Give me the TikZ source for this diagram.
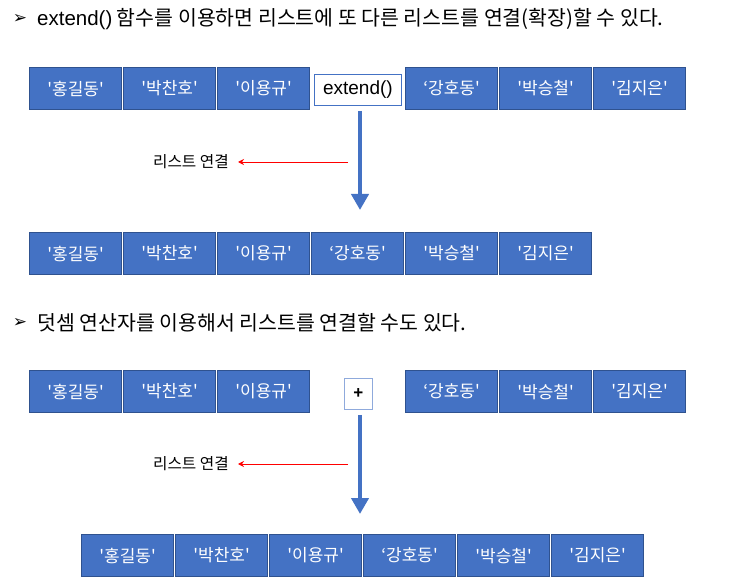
\documentclass[tikz,border=0pt]{standalone}
\usepackage{fontspec}
\newfontfamily\kr{Noto Sans CJK KR}
\newfontfamily\ar{Liberation Sans}
\newfontfamily\dv{DejaVu Sans}
\usetikzlibrary{arrows.meta}
\definecolor{bfill}{HTML}{4472C4}
\definecolor{bedge}{HTML}{2F528F}
\definecolor{pedge}{HTML}{8FAADC}
\tikzset{
  item/.style={draw=bedge, line width=1.2pt, fill=bfill, text=white,
    minimum width=92pt, minimum height=42pt, inner sep=0pt, anchor=north west,
    font=\kr\fontsize{17}{20}\selectfont},
  opbox/.style={fill=white, inner sep=0pt, anchor=north west},
  bigarrow/.style={draw=bfill, line width=4pt, shorten <=5pt, -{Triangle[length=16pt,width=17pt]}},
  redarrow/.style={draw=red, line width=0.9pt, shorten >=9pt, -{Stealth[length=6pt,width=6pt]}},
  title/.style={anchor=west, inner sep=0pt, font=\kr\fontsize{20.5}{24}\selectfont},
  bullet/.style={inner sep=0pt, font=\dv\bfseries\fontsize{17}{20}\selectfont},
  lbl/.style={anchor=east, inner sep=0pt, font=\kr\fontsize{15.7}{19}\selectfont}
}
\begin{document}
\begin{tikzpicture}[x=1pt,y=-1pt]
\useasboundingbox[fill=white] (0,0) rectangle (740,580);
% title 1
\node[bullet] (b1) at (20,19) {➢};
\node[title] (t1) at (37,19) {{\ar extend()} 함수를 이용하면 리스트에 또 다른 리스트를 연결(확장)할 수 있다.};
% row 1
\node[item] (r1a) at (29,67) {'홍길동'};
\node[item] (r1b) at (123,67) {'박찬호'};
\node[item] (r1c) at (217,67) {'이용규'};
\node[opbox, draw=bfill, line width=0.8pt, minimum width=87pt, minimum height=31pt,
  font=\ar\fontsize{19}{22}\selectfont] (ext) at (314,74) {extend()};
\node[item] (r1d) at (405,67) {‘강호동'};
\node[item] (r1e) at (499,67) {'박승철'};
\node[item] (r1f) at (593,67) {'김지은'};
% arrow 1
\coordinate (tip1) at (360,210);
\draw[bigarrow] (ext.south -| tip1) -- (tip1);
\node[lbl] (l1) at (229,162) {리스트 연결};
\coordinate (rs1) at (348,162);
\draw[redarrow] (rs1) -- (l1.east);
% row 2
\node[item] (r2a) at (29,232) {'홍길동'};
\node[item] (r2b) at (123,232) {'박찬호'};
\node[item] (r2c) at (217,232) {'이용규'};
\node[item] (r2d) at (311,232) {‘강호동'};
\node[item] (r2e) at (405,232) {'박승철'};
\node[item] (r2f) at (499,232) {'김지은'};
% title 2
\node[bullet] (b2) at (20,323) {➢};
\node[title] (t2) at (37,323) {덧셈 연산자를 이용해서 리스트를 연결할 수도 있다.};
% row 3
\node[item] (r3a) at (29,370) {'홍길동'};
\node[item] (r3b) at (123,370) {'박찬호'};
\node[item] (r3c) at (217,370) {'이용규'};
\node[opbox, draw=pedge, line width=0.9pt, minimum width=28pt, minimum height=31pt,
  font=\ar\bfseries\fontsize{17}{20}\selectfont] (plus) at (344,378) {+};
\node[item] (r3d) at (405,370) {‘강호동'};
\node[item] (r3e) at (499,370) {'박승철'};
\node[item] (r3f) at (593,370) {'김지은'};
% arrow 2
\coordinate (tip2) at (360,514);
\draw[bigarrow] (plus.south -| tip2) -- (tip2);
\node[lbl] (l2) at (229,464) {리스트 연결};
\coordinate (rs2) at (348,464);
\draw[redarrow] (rs2) -- (l2.east);
% row 4
\node[item] (r4a) at (81,534) {'홍길동'};
\node[item] (r4b) at (175,534) {'박찬호'};
\node[item] (r4c) at (269,534) {'이용규'};
\node[item] (r4d) at (363,534) {‘강호동'};
\node[item] (r4e) at (457,534) {'박승철'};
\node[item] (r4f) at (551,534) {'김지은'};
\end{tikzpicture}
\end{document}
